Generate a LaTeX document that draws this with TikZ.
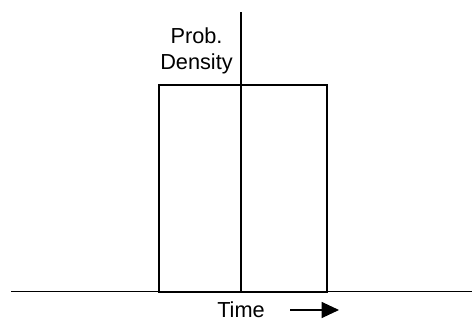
\documentclass[tikz,border=0pt]{standalone}
\usepackage{fontspec}
\setmainfont{Liberation Sans}
\usetikzlibrary{arrows.meta,positioning}

\begin{document}
\begin{tikzpicture}[x=0.75pt,y=-0.75pt,
    axis/.style={line width=0.9pt},
    pulse/.style={line width=1.5pt},
    lbl/.style={inner sep=0pt,align=center,font=\fontsize{16.3}{19.5}\selectfont}]
    \useasboundingbox (0,0) rectangle (472,322);

    % time axis, runs off the right edge
    \coordinate (tl) at (11,291.5);
    \coordinate (tr) at (472,291.5);
    \draw[axis] (tl) -- (tr);

    % density axis, stops on the time axis
    \coordinate (dt) at (241,12);
    \coordinate (db) at (241,291.5);
    \draw[axis] (dt) -- (db);

    % uniform pulse
    \coordinate (pl) at (159,291.5);
    \coordinate (pr) at (326.5,85);
    \draw[pulse] (pl) rectangle (pr);

    % labels
    \node[lbl,anchor=north east] (dens) at (233,27) {Prob.\\Density};
    \node[lbl,anchor=base west] (time) at (217,317) {Time};

    % arrow next to time label
    \coordinate (as) at (290,310);
    \coordinate (ae) at (339,310);
    \draw[axis,-{Triangle[length=13pt,width=12pt]}] (as) -- (ae);
\end{tikzpicture}
\end{document}
